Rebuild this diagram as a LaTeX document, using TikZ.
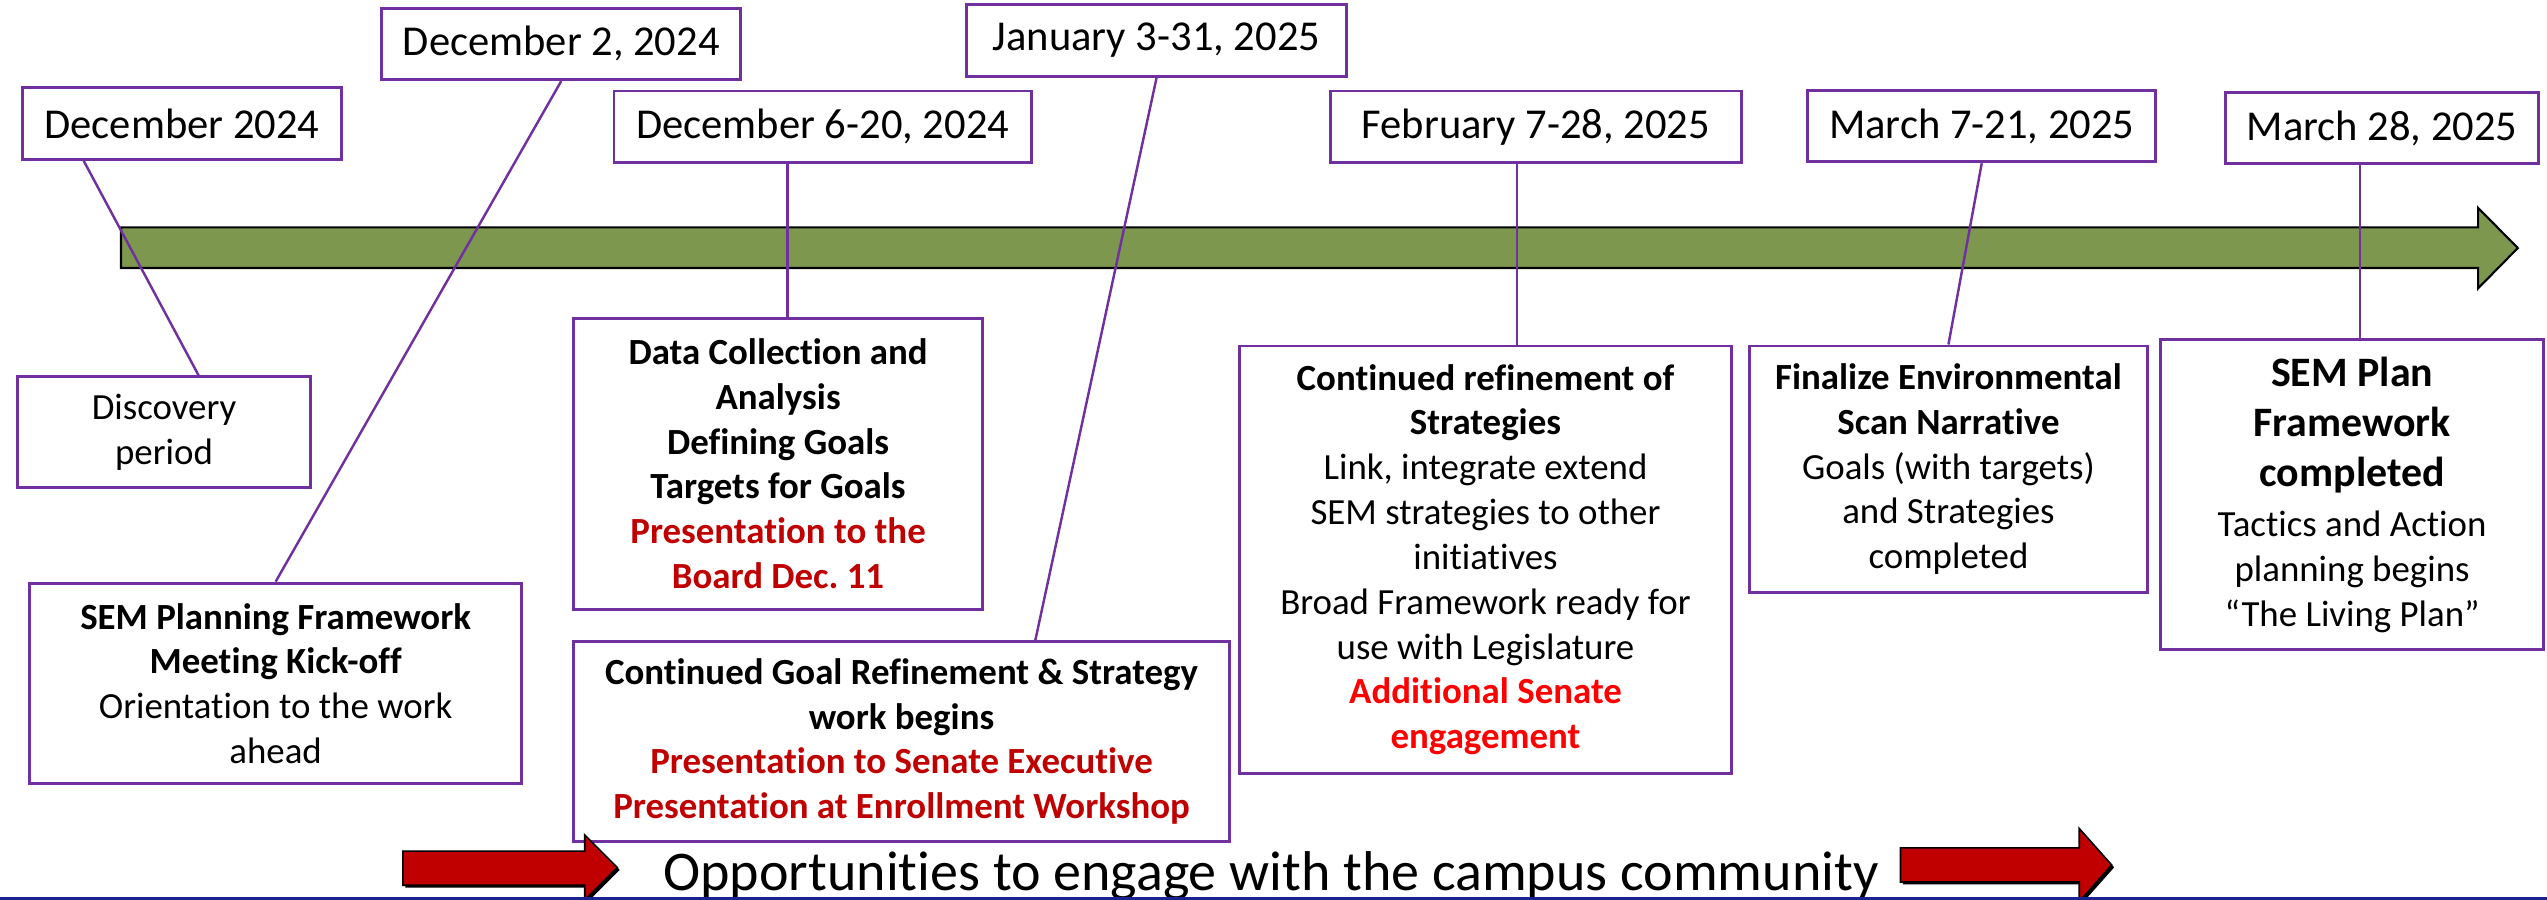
\documentclass[tikz,border=0pt]{standalone}
\usepackage{fontspec}
\setmainfont{Carlito}[Ligatures=NoCommon]
\frenchspacing
\usetikzlibrary{calc}
\definecolor{boxpurple}{HTML}{7030A0}
\definecolor{olivebar}{RGB}{126,151,79}
\definecolor{darkred}{HTML}{C00000}
\definecolor{brightred}{HTML}{FF0000}
\definecolor{navyline}{RGB}{28,35,145}
\tikzset{
  datebox/.style={draw=boxpurple, line width=1.8pt, fill=white, inner sep=0pt, font=\fontsize{26.2}{31}\selectfont},
  infobox/.style={draw=boxpurple, line width=1.8pt, fill=white, inner sep=0pt, align=center, font=\fontsize{22.7}{27.6}\selectfont},
  link/.style={draw=boxpurple, line width=1.5pt},
  redarrow/.style={fill=darkred, draw=black, line width=1pt},
  arrowshadow/.style={fill=black},
}
\begin{document}
\begin{tikzpicture}[x=1pt,y=-1pt]
\useasboundingbox (0,0) rectangle (1568,554);

% main timeline arrow
\draw[fill=olivebar, draw=black, line width=1.3pt]
  (74.5,140) -- (1525.6,140) -- (1525.6,128) -- (1550,152.7) -- (1525.6,177.5) -- (1525.6,165) -- (74.5,165) -- cycle;

% date boxes
\node[datebox, minimum width=196pt, minimum height=44pt] (dec24) at (112,76) {December 2024};
\node[datebox, minimum width=221pt, minimum height=44pt] (dec2) at (345.5,27) {December 2, 2024};
\node[datebox, minimum width=257pt, minimum height=44pt] (dec6) at (506.5,78) {December 6-20, 2024};
\node[datebox, minimum width=234pt, minimum height=44pt] (jan) at (712,25) {January 3-31, 2025};
\node[datebox, minimum width=253pt, minimum height=44pt] (feb) at (945.5,78) {February 7-28, 2025};
\node[datebox, minimum width=214pt, minimum height=44pt] (mar7) at (1220,77.6) {March 7-21, 2025};
\node[datebox, minimum width=193pt, minimum height=43.5pt] (mar28) at (1466.5,78.8) {March 28, 2025};

% info boxes
\node[infobox, minimum width=180pt, minimum height=68pt] (disc) at (101,266) {Discovery\\period};
\node[infobox, minimum width=302.6pt, minimum height=123.6pt] (kick) at (169.7,420.8)
  {\textbf{SEM Planning Framework}\\\textbf{Meeting Kick-off}\\Orientation to the work\\ahead};
\node[infobox, minimum width=252pt, minimum height=179pt] (data) at (479,285.5)
  {\textbf{Data Collection and}\\\textbf{Analysis}\\\textbf{Defining Goals}\\\textbf{Targets for Goals}\\
   \textcolor{darkred}{\textbf{Presentation to the}}\\\textcolor{darkred}{\textbf{Board Dec. 11}}};
\node[infobox, minimum width=404pt, minimum height=123pt] (goal) at (555,456.5)
  {\textbf{Continued Goal Refinement \& Strategy}\\\textbf{work begins}\\
   \textcolor{darkred}{\textbf{Presentation to Senate Executive}}\\
   \textcolor{darkred}{\textbf{Presentation at Enrollment Workshop}}};
\node[infobox, minimum width=303pt, minimum height=263pt] (refine) at (914.5,344.5)
  {\textbf{Continued refinement of}\\\textbf{Strategies}\\Link, integrate extend\\SEM strategies to other\\initiatives\\
   Broad Framework ready for\\use with Legislature\\
   \textcolor{brightred}{\textbf{Additional Senate}}\\\textcolor{brightred}{\textbf{engagement}}};
\node[infobox, minimum width=245pt, minimum height=151.5pt] (final) at (1199.5,288.75)
  {\textbf{Finalize Environmental}\\\textbf{Scan Narrative}\\Goals (with targets)\\and Strategies\\completed};
\node[infobox, minimum width=236pt, minimum height=191pt] (plan) at (1448,304.5)
  {\fontsize{25.8}{30.8}\selectfont\textbf{SEM Plan}\\[3.2pt]
   \fontsize{25.8}{30.8}\selectfont\textbf{Framework}\\[3.2pt]
   \fontsize{25.8}{30.8}\selectfont\textbf{completed}\\[3.2pt]
   Tactics and Action\\planning begins\\“The Living Plan”};

% connectors
\draw[link] ($(dec24.south west)!0.194!(dec24.south east)$) -- ($(disc.north west)!0.617!(disc.north east)$);
\draw[link] (dec2.south) -- (kick.north);
\coordinate (c6) at ($(dec6.south west)!0.416!(dec6.south east)$);
\draw[link] (c6) -- (c6 |- data.north);
\draw[link] (jan.south) -- ($(goal.north west)!0.703!(goal.north east)$);
\coordinate (cf) at ($(feb.south west)!0.455!(feb.south east)$);
\draw[link] (cf) -- (cf |- refine.north);
\draw[link] (mar7.south) -- (final.north);
\coordinate (cm) at ($(mar28.south west)!0.43!(mar28.south east)$);
\draw[link] (cm) -- (cm |- plan.north);

% engagement arrows
\fill[arrowshadow] (249.5,525.5) -- (361.5,525.5) -- (361.5,515.5) -- (381.5,535.5) -- (361.5,555.5) -- (361.5,546.5) -- (249.5,546.5) -- cycle;
\draw[redarrow] (248,524) -- (360,524) -- (360,514) -- (380,534) -- (360,554) -- (360,545) -- (248,545) -- cycle;
\fill[arrowshadow] (1171.5,523.5) -- (1281.5,523.5) -- (1281.5,511.5) -- (1301.5,534) -- (1281.5,556.5) -- (1281.5,544.5) -- (1171.5,544.5) -- cycle;
\draw[redarrow] (1170,522) -- (1280,522) -- (1280,510) -- (1300,532.5) -- (1280,555) -- (1280,543) -- (1170,543) -- cycle;

\node[font=\fontsize{34.5}{40}\selectfont, anchor=base, inner sep=0pt] (opp) at (782.5,548) {Opportunities to engage with the campus community};

% bottom rule
\fill[navyline] (0,552.2) rectangle (1568,554);
\end{tikzpicture}
\end{document}
